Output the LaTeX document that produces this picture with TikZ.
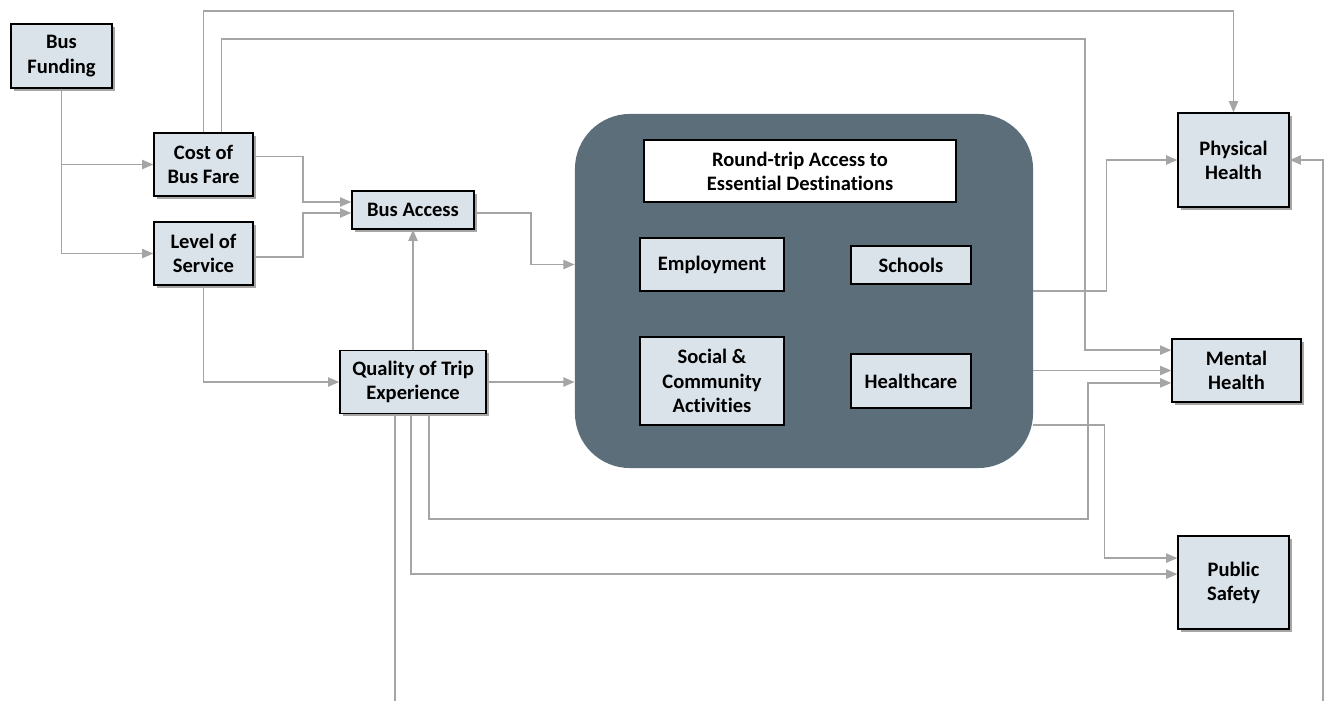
\documentclass[tikz,border=0pt]{standalone}
\usepackage{fontspec}
\setmainfont{Carlito}[Ligatures=NoCommon]
\usetikzlibrary{arrows.meta,shadows}
\definecolor{boxfill}{HTML}{DAE3EA}
\definecolor{slate}{HTML}{5B6E7A}
\definecolor{linkgray}{HTML}{A5A5A5}

\begin{document}
\begin{tikzpicture}[
    x=0.025cm, y=-0.025cm,
    font=\fontsize{14.6}{17.2}\selectfont\bfseries,
    factor/.style={draw=black,line width=0.9pt,fill=boxfill,align=center,inner sep=0pt,
      drop shadow={shadow xshift=2pt,shadow yshift=-2pt,fill=black,opacity=0.35}},
    place/.style={draw=black,line width=0.9pt,fill=boxfill,align=center,inner sep=0pt},
    link/.style={draw=linkgray,line width=1.2pt,-{Triangle[length=8pt,width=6.5pt,fill=linkgray]}}
    ]
    \useasboundingbox (0,0) rectangle (1325,700);
    \node[factor,minimum width=2.525cm,minimum height=1.6cm] (fund) at (61.5,56) {Bus\\Funding};
    \node[factor,minimum width=2.475cm,minimum height=1.575cm] (cost) at (203.5,164.5) {Cost of\\Bus Fare};
    \node[factor,minimum width=2.475cm,minimum height=1.575cm] (level) at (203.5,253.5) {Level of\\Service};
    \node[factor,minimum width=3.05cm,minimum height=0.95cm] (access) at (413,210) {Bus Access};
    \node[factor,minimum width=3.65cm,minimum height=1.575cm] (quality) at (413,382) {Quality of Trip\\Experience};
    \node[fill=slate,rounded corners=1.375cm,minimum width=11.45cm,minimum height=8.85cm] (hub) at (804,291) {};
    \node[place,fill=white,minimum width=7.8cm,minimum height=1.55cm] (title) at (800,171) {Round-trip Access to\\Essential Destinations};
    \node[place,minimum width=3.6cm,minimum height=1.325cm] (empl) at (712,264.5) {Employment};
    \node[place,minimum width=3cm,minimum height=0.95cm] (school) at (911,265) {Schools};
    \node[place,minimum width=3.6cm,minimum height=2.2cm] (social) at (712,381) {Social \&\\Community\\Activities};
    \node[place,minimum width=3cm,minimum height=1.35cm] (care) at (911,381) {Healthcare};
    \node[factor,minimum width=2.775cm,minimum height=2.35cm] (phys) at (1233.5,160) {Physical\\Health};
    \node[factor,minimum width=3.225cm,minimum height=1.575cm] (mental) at (1236.5,370.5) {Mental\\Health};
    \node[factor,minimum width=2.775cm,minimum height=2.325cm] (safety) at (1233.5,582.5) {Public\\Safety};
    \draw[link] (fund.south) |- (level.west);
    \draw[link] (fund.south |- cost.west) -- (cost.west);
    \draw[link] ([yshift=0.2cm]cost.east) -- ++(1.225cm,0) |- ([yshift=0.2cm]access.west);
    \draw[link] ([yshift=-0.08cm]level.east) -- ++(1.225cm,0) |- ([yshift=-0.075cm]access.west);
    \draw[link] (level.south) |- (quality.west);
    \draw[link] (quality.north) -- (access.south);
    \draw[link] ([yshift=-0.075cm]access.east) -- ++(1.4cm,0) |- (hub.west |- empl);
    \draw[link] (quality.east) -- (quality.east -| hub.west);
    \draw[link] (cost.north) -- ++(0,3.025cm) -| (phys.north);
    \draw[link] ([xshift=0.45cm]cost.north) -- ++(0,2.325cm) -- ++(21.575cm,0) |- ([yshift=0.51cm]mental.west);
    \draw[link] (hub.east) -- ++(1.825cm,0) |- (phys.west);
    \draw[link] (mental.west -| hub.east) -- (mental.west);
    \draw[link] ([xshift=0.4cm]quality.south) -- ++(0,-2.625cm) -- ++(16.475cm,0) |- ([yshift=-0.31cm]mental.west);
    \draw[link] ([yshift=-3.35cm]hub.east) -- ++(1.775cm,0) |- ([yshift=0.61cm]safety.west);
    \draw[link] ([xshift=-0.05cm]quality.south) |- ([yshift=0.21cm]safety.west);
    \draw[link] ([xshift=-0.45cm]quality.south) -- ++(0,-7.4cm) -- ++(23.2cm,0) |- (phys.east);
\end{tikzpicture}
\end{document}
